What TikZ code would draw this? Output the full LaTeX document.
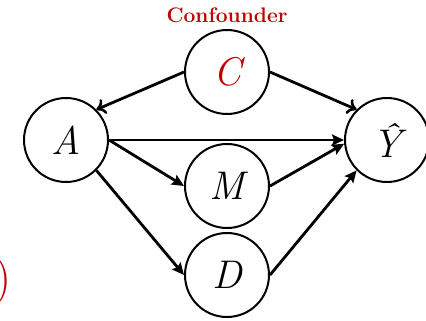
\documentclass[tikz,border=0pt]{standalone}
\usepackage{fontspec}
\usetikzlibrary{arrows.meta}
\definecolor{cfred}{RGB}{192,0,0}
\begin{document}
\begin{tikzpicture}[x=1pt,y=-1pt,
  var/.style={circle,draw,line width=2pt,minimum size=84pt,inner sep=0pt,font=\fontsize{40}{44}\selectfont\itshape},
  openarr/.style={line width=2.8pt,-{To[length=9pt,width=16pt,line width=2.6pt]}},
  fillarr/.style={line width=2.8pt,-{Stealth[length=12pt,width=11pt,inset=2pt]}}]
\useasboundingbox (0,0) rectangle (426,321);
\node[var,text=cfred] (C) at (227,72) {C};
\node[var] (A) at (66,140) {A};
\node[var] (Y) at (387,140) {Ŷ};
\node[var] (M) at (227,186) {M};
\node[var] (D) at (227,275) {D};
\node[text=cfred,font=\fontsize{21}{24}\selectfont\bfseries] (conf) at (227,15) {Confounder};
\node[text=cfred,font=\fontsize{48}{52}\selectfont,anchor=east,inner sep=0pt] (paren) at (12,282) {)};
\draw[openarr] (C.west) -- (A.north east);
\draw[openarr] (C.east) -- (Y.north west);
\draw[fillarr] (A.east) -- (Y.west);
\draw[fillarr] (A.east) -- (M.west);
\draw[fillarr] (A.south east) -- (D.west);
\draw[fillarr] (M.east) -- (Y.185);
\draw[fillarr] (D.east) -- (Y.south west);
\end{tikzpicture}
\end{document}
